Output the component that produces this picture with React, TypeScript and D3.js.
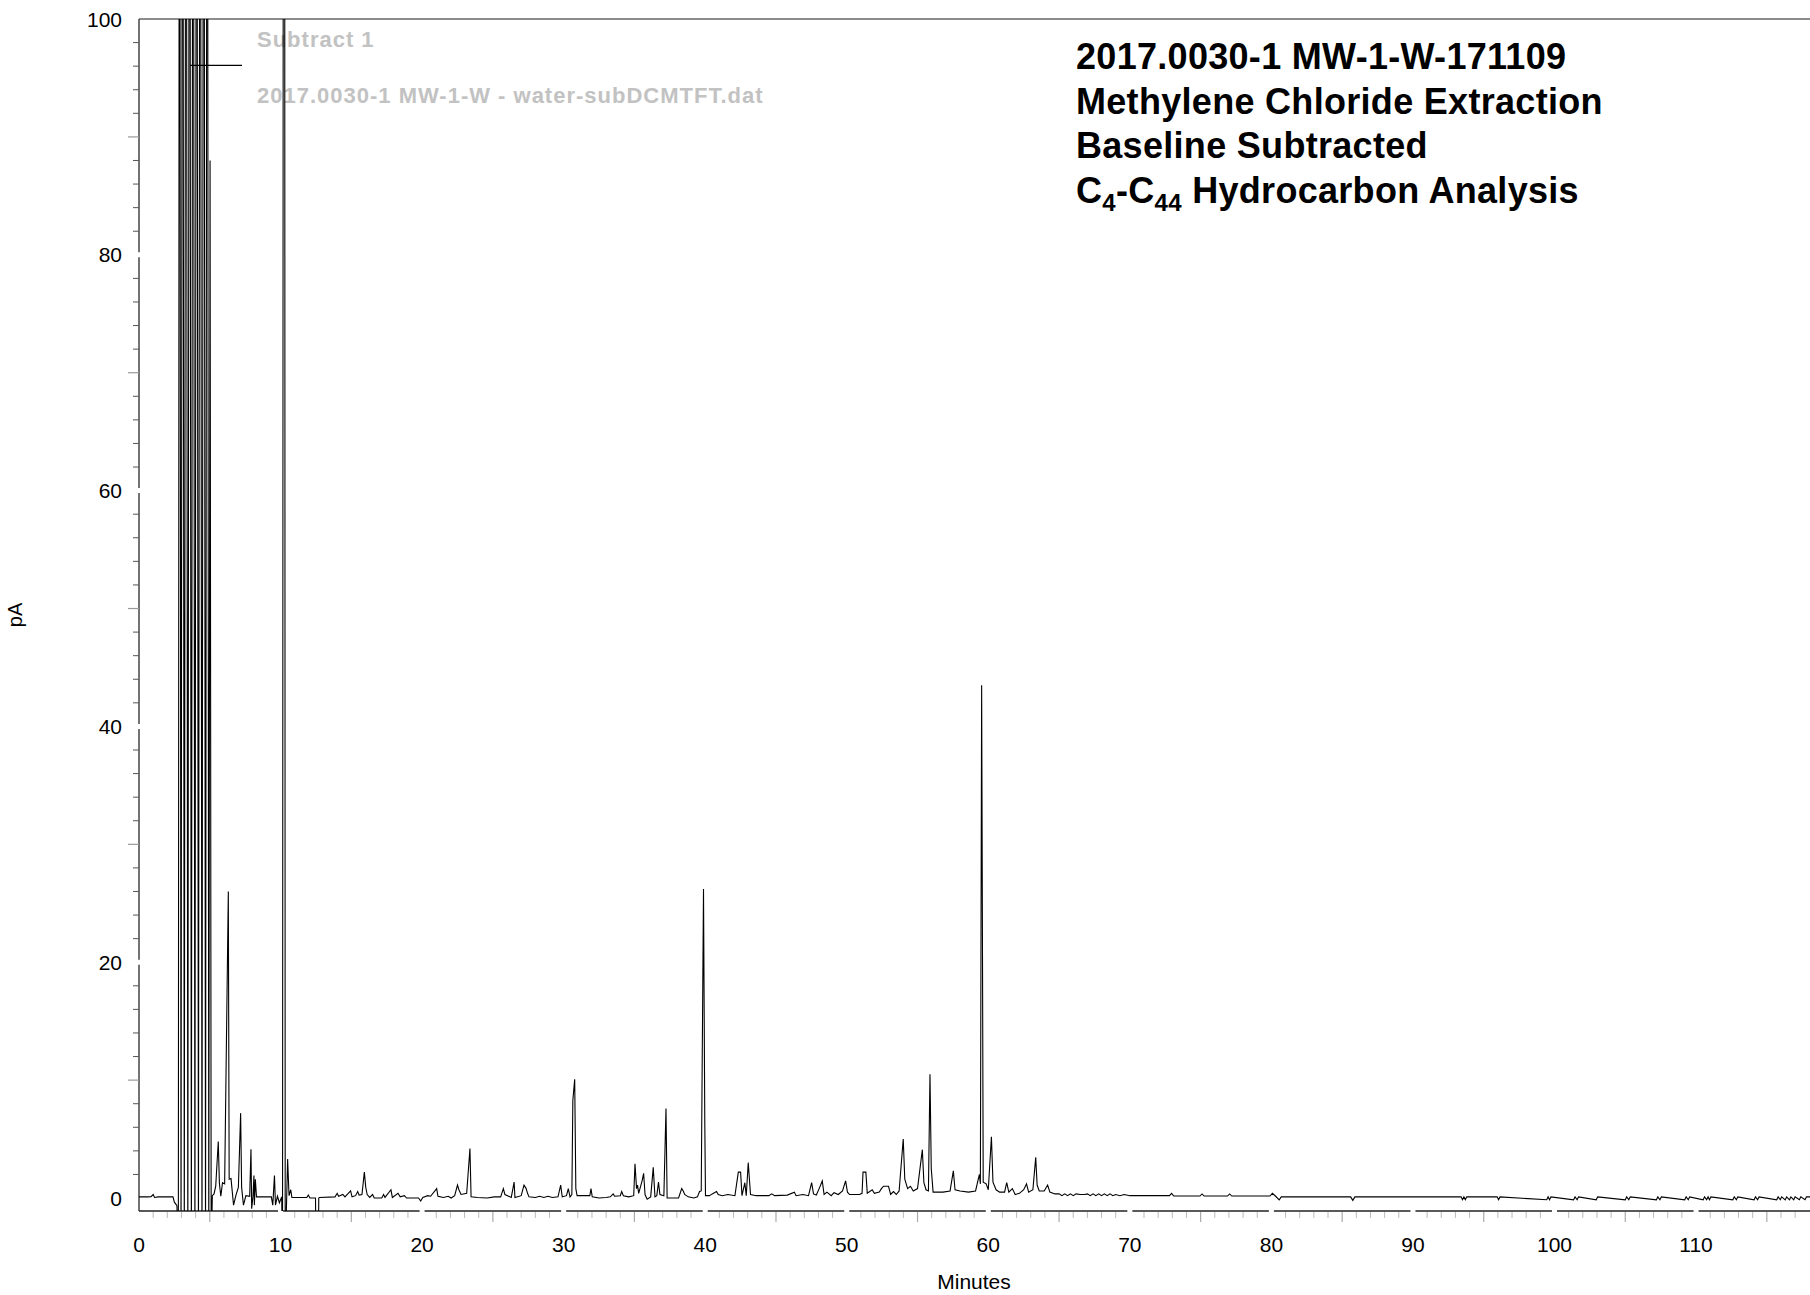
import React from "react";
import * as d3 from "d3";

// ---------- data ----------
const xTickLabels = [0, 10, 20, 30, 40, 50, 60, 70, 80, 90, 100, 110];
const yTickLabels = [0, 20, 40, 60, 80, 100];
const xDomain: [number, number] = [0, 118.05];
const yDomain: [number, number] = [-1.1, 100];

const titleLine1 = "2017.0030-1 MW-1-W-171109";
const titleLine2 = "Methylene Chloride Extraction";
const titleLine3 = "Baseline Subtracted";
const legendLabels = ["Subtract 1", "2017.0030-1 MW-1-W - water-subDCMTFT.dat"];
const xAxisTitle = "Minutes";
const yAxisTitle = "pA";

// trace: [minutes, pA]
const traceStart: [number, number][] = [
  [0, 0.1], [0.6, 0.1], [0.85, 0.12], [1.0, 0.3], [1.1, 0.05], [1.35, 0.1], [2.4, 0.1], [2.5, -0.35], [2.68, -0.65],
];

const traceSolvent: [number, number][] = [
  [2.78, -5], [2.86, 160], [2.97, -5], [3.08, 160], [3.2, -5], [3.32, 160], [3.45, -5], [3.57, 160], [3.7, -5],
  [3.82, 160], [3.95, -5], [4.07, 160], [4.2, -5], [4.32, 160], [4.45, -5], [4.57, 160], [4.7, -5], [4.82, 160],
  [4.93, -5], [5.02, 88], [5.1, -5],
];

const traceEarly: [number, number][] = [
  [5.18, 0.2], [5.3, 0.35], [5.42, 1.0], [5.6, 4.8], [5.68, 1.25], [5.78, 0.15], [5.9, 1.3], [6.05, 1.2],
  [6.31, 26.0], [6.37, 1.6], [6.5, 1.65], [6.68, -0.6], [6.85, 0.25], [7.02, 0.9], [7.18, 7.2], [7.25, 0.9],
  [7.38, -0.6], [7.55, 0.2], [7.82, 0.15], [7.91, 4.13], [7.96, -0.9], [8.05, 0.1], [8.12, 1.9], [8.15, -0.6],
  [8.22, 1.6], [8.3, 0.1], [9.35, 0.1], [9.45, -0.6], [9.57, 1.9], [9.64, -0.6], [9.78, 0.15], [9.92, -0.4],
  [10.08, 0.1], [10.14, -5], [10.25, 250], [10.33, -5], [10.5, 3.3], [10.6, 0.2], [10.72, 0.7], [10.8, 0.05],
  [11.85, 0.05], [11.96, 0.25], [12.08, 0.0], [12.47, 0.0], [12.49, -3], [12.68, -3], [12.7, 0.0],
];

const traceMid1: [number, number][] = [
  [12.75, 0.05], [13.85, 0.1], [14.0, 0.4], [14.1, 0.15], [14.4, 0.3], [14.55, 0.1], [14.95, 0.6], [15.05, 0.1],
  [15.3, 0.2], [15.45, 0.55], [15.55, 0.25], [15.75, 0.3], [15.92, 2.2], [16.02, 0.9], [16.12, 0.3], [16.3, 0.05],
  [16.5, 0.3], [16.62, 0.0], [17.15, 0.0], [17.28, 0.3], [17.38, 0.05], [17.8, 0.7], [17.9, 0.05], [18.3, 0.4],
  [18.45, 0.1], [18.75, 0.2], [18.9, 0.0], [19.75, 0.0], [19.9, -0.25], [20.05, 0.05], [20.4, 0.2], [20.6, 0.15],
  [21.03, 0.8], [21.12, 0.15], [21.5, 0.05], [21.85, 0.15], [22.05, 0.0], [22.3, 0.2], [22.5, 1.1], [22.6, 0.7],
  [22.75, 0.3], [23.15, 0.4], [23.38, 4.2], [23.46, 0.1], [23.9, 0.05], [24.6, 0.0], [25.1, 0.1], [25.55, 0.1],
  [25.74, 0.8], [25.85, 0.3], [26.3, 0.05], [26.5, 1.35], [26.56, 0.05], [27.0, 0.2], [27.2, 1.1], [27.35, 0.8],
  [27.45, 0.4], [27.55, 0.1], [28.0, 0.05], [28.3, 0.15], [28.6, 0.05], [28.9, 0.15], [29.2, 0.05], [29.6, 0.1],
  [29.79, 1.1], [29.9, 0.1], [30.2, 0.2], [30.33, 0.8], [30.45, 0.1], [30.58, 0.3], [30.65, 8.3], [30.78, 10.07],
  [30.86, 0.8], [30.95, 0.2],
];

const traceMid2: [number, number][] = [
  [31.3, 0.2], [31.85, 0.2], [31.93, 0.8], [32.02, 0.1], [32.5, 0.0], [33.0, 0.05], [33.3, 0.1], [33.5, 0.35],
  [33.6, 0.15], [34.0, 0.2], [34.1, 0.55], [34.22, 0.2], [34.6, 0.1], [34.95, 0.2], [35.04, 2.9], [35.15, 0.8],
  [35.22, 1.1], [35.3, 0.4], [35.55, 1.5], [35.65, 2.1], [35.75, 0.3], [35.9, -0.1], [36.15, 0.1], [36.33, 2.6],
  [36.45, 0.1], [36.58, 0.2], [36.7, 1.35], [36.8, 0.3], [37.08, 0.2], [37.23, 7.6], [37.31, 0.0], [38.12, 0.0],
  [38.34, 0.8], [38.45, 0.6], [38.55, 0.3], [38.8, 0.1], [39.2, 0.0], [39.45, 0.1], [39.6, 0.55], [39.72, 0.6],
  [39.88, 26.2], [39.97, 6.5], [40.02, 0.2], [40.3, 0.2], [40.5, 0.35], [40.8, 0.55], [40.92, 0.3], [41.2, 0.2],
  [41.6, 0.3], [42.1, 0.2], [42.34, 2.2], [42.5, 2.2], [42.6, 0.2], [42.8, 1.3], [42.9, 0.2], [43.04, 3.0],
  [43.2, 0.3], [43.6, 0.2], [44.5, 0.2], [44.7, 0.35], [44.9, 0.2],
];

const traceMid3: [number, number][] = [
  [45.8, 0.25], [46.3, 0.5], [46.42, 0.2], [46.9, 0.3], [47.3, 0.2], [47.52, 1.3], [47.65, 0.35], [47.85, 0.25],
  [48.05, 0.8], [48.27, 1.45], [48.4, 0.3], [48.6, 0.5], [48.9, 0.2], [49.1, 0.45], [49.4, 0.3], [49.7, 0.6],
  [49.92, 1.45], [50.05, 0.5], [50.2, 0.3], [50.9, 0.3], [51.08, 0.4], [51.15, 2.2], [51.35, 2.2], [51.45, 0.4],
  [51.8, 0.7], [51.95, 0.4], [52.3, 0.5], [52.45, 0.8], [52.6, 1.0], [52.95, 1.0], [53.1, 0.3], [53.3, 0.55],
  [53.5, 0.3], [53.7, 0.6], [53.99, 5.0], [54.1, 1.6], [54.3, 0.8], [54.5, 1.0], [54.7, 0.6], [55.0, 0.8],
  [55.34, 4.1], [55.45, 1.3], [55.6, 0.7], [55.77, 0.6], [55.88, 10.5], [55.97, 2.5], [56.1, 0.5], [56.4, 0.5],
  [56.8, 0.5], [57.3, 0.6], [57.53, 2.3], [57.65, 0.7], [58.0, 0.6], [58.6, 0.5], [59.1, 0.6], [59.37, 2.0],
  [59.44, 1.2], [59.53, 43.5], [59.64, 1.35], [59.85, 1.2], [60.0, 0.7], [60.22, 5.2], [60.33, 1.35], [60.55, 0.7],
  [60.8, 0.5], [61.15, 0.5], [61.3, 1.3], [61.45, 0.5], [61.7, 0.8], [61.9, 0.3], [62.2, 0.4], [62.5, 0.7],
  [62.7, 1.2], [62.85, 0.5], [63.15, 0.7], [63.35, 3.45], [63.45, 1.1], [63.6, 0.6], [63.95, 0.6], [64.19, 1.1],
  [64.35, 0.5], [64.7, 0.35],
];

const traceTail: [number, number][] = [
  [65.0, 0.35], [65.2, 0.2], [65.4, 0.35], [65.6, 0.2], [65.8, 0.35], [66.0, 0.2], [66.2, 0.35], [66.5, 0.3],
  [66.8, 0.3], [67.0, 0.35], [67.2, 0.2], [67.4, 0.35], [67.6, 0.2], [67.8, 0.35], [68.0, 0.2], [68.2, 0.35],
  [68.4, 0.2], [68.6, 0.35], [68.8, 0.2], [69.0, 0.3], [69.3, 0.2], [69.6, 0.3], [70.0, 0.2], [72.8, 0.2],
  [72.95, 0.4], [73.1, 0.17], [74.95, 0.17], [75.1, 0.35], [75.25, 0.17], [76.9, 0.17], [77.05, 0.35], [77.2, 0.17],
  [79.9, 0.17], [80.07, 0.4], [80.3, 0.15], [80.55, -0.15], [80.7, 0.1], [85.6, 0.1], [85.75, -0.2], [85.9, 0.1],
  [93.4, 0.1], [93.5, -0.15], [93.6, 0.1], [93.7, -0.15], [93.8, 0.1], [95.95, 0.1], [96.05, -0.15], [96.15, 0.1],
  [99.45, -0.15], [99.55, 0.1], [99.65, -0.15], [99.75, 0.1], [101.35, -0.15], [101.45, 0.1], [101.6, -0.15],
  [101.7, 0.1], [102.95, -0.15], [103.05, 0.1], [105.0, -0.15], [105.1, 0.1], [105.25, -0.15], [105.35, 0.1],
  [107.2, -0.15], [107.3, 0.1], [107.45, -0.15], [107.55, 0.1], [109.2, -0.15], [109.3, 0.1], [109.45, -0.15],
  [109.55, 0.1], [110.5, -0.15], [110.6, 0.1], [110.75, -0.15], [110.85, 0.1], [110.95, -0.15], [111.05, 0.1],
  [112.6, -0.15], [112.7, 0.1], [112.85, -0.15], [112.95, 0.1], [114.1, -0.15], [114.2, 0.1], [114.35, -0.15],
  [114.45, 0.1], [115.7, -0.15], [115.8, 0.1], [115.95, -0.15], [116.05, 0.1], [116.3, -0.15], [116.4, 0.1],
  [116.6, -0.15], [116.7, 0.1], [116.9, -0.15], [117.0, 0.1], [117.3, -0.15], [117.4, 0.1], [117.7, -0.15],
  [117.8, 0.1], [118.1, 0.1],
];

// ---------- chart ----------
const FONT = "'Liberation Sans', Arial, Helvetica, sans-serif";

export default function App() {
  const W = 1810;
  const H = 1295;
  const left = 139;
  const top = 19;
  const bottom = 1211;
  const x = d3.scaleLinear().domain(xDomain).range([left, W]);
  const y = d3.scaleLinear().domain(yDomain).range([bottom, top]);

  const trace = [...traceStart, ...traceSolvent, ...traceEarly, ...traceMid1, ...traceMid2, ...traceMid3, ...traceTail];
  const line = d3
    .line<[number, number]>()
    .x((d) => x(d[0]))
    .y((d) => y(d[1]));

  const gap = 2.5;
  const yBreaks = yTickLabels.filter((v) => v > 0 && v < 100).map((v) => y(v));
  const ySegs: [number, number][] = [];
  let yPrev = bottom;
  yBreaks.forEach((b) => {
    ySegs.push([yPrev, b + gap]);
    yPrev = b - gap;
  });
  ySegs.push([yPrev, top]);

  const yMinor = d3.range(2, 100, 2).filter((v) => v % 10 !== 0);
  const yMid = d3.range(10, 100, 20);

  const xBreaks = xTickLabels.filter((v) => v > 0).map((v) => x(v));
  const xSegs: [number, number][] = [];
  let xPrev = left;
  xBreaks.forEach((b) => {
    xSegs.push([xPrev, b - gap]);
    xPrev = b + gap;
  });
  xSegs.push([xPrev, W]);
  const xMinor = d3.range(1, 118, 1).filter((v) => v % 5 !== 0);
  const xMid = d3.range(5, 118, 10);

  return (
    <div style={{ position: "absolute", left: 0, top: 0 }}>
      <svg width={W} height={H} style={{ display: "block", background: "#fff" }} fontFamily={FONT}>
        <defs>
          <clipPath id="plotClip">
            <rect x={left} y={top} width={W - left} height={bottom - top} />
          </clipPath>
        </defs>

        {/* top frame */}
        <line x1={left} x2={W} y1={top} y2={top} stroke="#666" strokeWidth={1.6} />

        {/* y axis */}
        {ySegs.map((s, i) => (
          <line key={"ys" + i} x1={left} x2={left} y1={s[0]} y2={s[1]} stroke="#444" strokeWidth={1.5} />
        ))}
        {yMinor.map((v) => (
          <line key={"ym" + v} x1={left - 6} x2={left} y1={y(v)} y2={y(v)} stroke="#555" strokeWidth={1} />
        ))}
        {yMid.map((v) => (
          <line key={"yM" + v} x1={left - 11} x2={left} y1={y(v)} y2={y(v)} stroke="#999" strokeWidth={1.2} />
        ))}
        {yTickLabels.map((v) => (
          <text key={"yl" + v} x={122} y={y(v) + 7.5} textAnchor="end" fontSize={21} fill="#000">
            {v}
          </text>
        ))}
        <text transform={`translate(22, 615) rotate(-90)`} textAnchor="middle" fontSize={20} fill="#000">
          {yAxisTitle}
        </text>

        {/* x axis */}
        {xSegs.map((s, i) => (
          <line key={"xs" + i} x1={s[0]} x2={s[1]} y1={bottom} y2={bottom} stroke="#222" strokeWidth={1.6} />
        ))}
        {xMinor.map((v) => (
          <line key={"xm" + v} x1={x(v)} x2={x(v)} y1={bottom + 1} y2={bottom + 7} stroke="#bbb" strokeWidth={1} />
        ))}
        {xMid.map((v) => (
          <line key={"xM" + v} x1={x(v)} x2={x(v)} y1={bottom + 1} y2={bottom + 11} stroke="#aaa" strokeWidth={1.2} />
        ))}
        {xTickLabels.map((v) => (
          <text key={"xl" + v} x={x(v)} y={1252} textAnchor="middle" fontSize={21} fill="#000">
            {v}
          </text>
        ))}
        <text x={974} y={1289} textAnchor="middle" fontSize={21} fill="#000">
          {xAxisTitle}
        </text>

        {/* legend */}
        <text x={257} y={46.5} fontSize={22} fontWeight="bold" fill="#c2c2c2" letterSpacing={1.0}>
          {legendLabels[0]}
        </text>
        <text x={257} y={103} fontSize={22} fontWeight="bold" fill="#c2c2c2" letterSpacing={1.0}>
          {legendLabels[1]}
        </text>
        <line x1={190} x2={242} y1={65.3} y2={65.3} stroke="#000" strokeWidth={1.2} />

        {/* title */}
        <g fontWeight="bold" fontSize={36} fill="#000" letterSpacing={0.3}>
          <text x={1076} y={69}>{titleLine1}</text>
          <text x={1076} y={113.5}>{titleLine2}</text>
          <text x={1076} y={158}>{titleLine3}</text>
          <text x={1076} y={202.5}>
            C<tspan fontSize={24} dy={8}>4</tspan>
            <tspan dy={-8}>-C</tspan>
            <tspan fontSize={24} dy={8}>44</tspan>
            <tspan dy={-8}> Hydrocarbon Analysis</tspan>
          </text>
        </g>

        {/* trace */}
        <g clipPath="url(#plotClip)">
          <path d={line(trace) ?? ""} fill="none" stroke="#000" strokeWidth={1.1} strokeLinejoin="miter" />
        </g>
      </svg>
    </div>
  );
}
